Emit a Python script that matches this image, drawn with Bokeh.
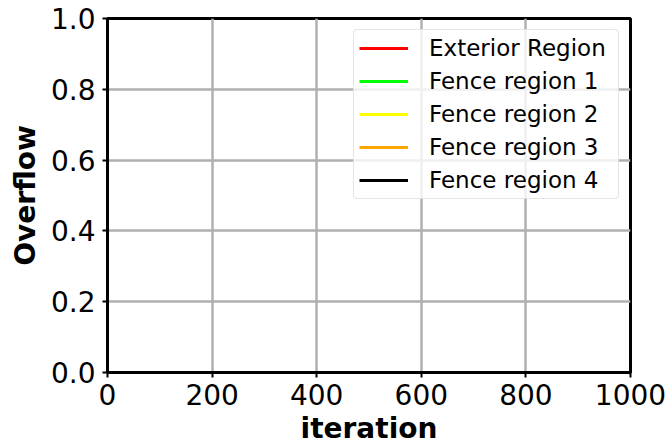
from bokeh.plotting import figure
from bokeh.models import Range1d, FixedTicker, PrintfTickFormatter, Legend, LegendItem
from bokeh.embed import file_html
from bokeh.resources import INLINE

nan = float("nan")

# Data (all series are empty in the reference; a single NaN keeps the legend glyph)
series_names = ["Exterior Region", "Fence region 1", "Fence region 2", "Fence region 3", "Fence region 4"]
series_colors = ["#ff0000", "#00ff00", "#ffff00", "#ffa500", "#000000"]
iterations = [[nan], [nan], [nan], [nan], [nan]]
overflow = [[nan], [nan], [nan], [nan], [nan]]
x_ticks = [0, 200, 400, 600, 800, 1000]
y_ticks = [0.0, 0.2, 0.4, 0.6, 0.8, 1.0]

FONT = "DejaVu Sans"

p = figure(width=669, height=447, output_backend="svg", toolbar_location=None,
           x_range=Range1d(0, 1000), y_range=Range1d(0, 1),
           min_border_left=107, min_border_right=39, min_border_top=18, min_border_bottom=74)

p.background_fill_color = "white"
p.border_fill_color = "white"
p.outline_line_color = "black"
p.outline_line_width = 3

items = []
for name, col, xs, ys in zip(series_names, series_colors, iterations, overflow):
    r = p.line(xs, ys, line_color=col, line_width=3)
    items.append(LegendItem(label=name, renderers=[r]))

for ax in (p.xaxis[0], p.yaxis[0]):
    ax.axis_line_color = "black"
    ax.axis_line_width = 3
    ax.major_tick_line_color = "black"
    ax.major_tick_line_width = 2
    ax.major_tick_out = 5
    ax.major_tick_in = 0
    ax.minor_tick_line_color = None
    ax.major_label_text_font = FONT
    ax.major_label_text_font_size = "28px"
    ax.major_label_text_color = "black"
    ax.axis_label_text_font = FONT
    ax.axis_label_text_font_size = "28px"
    ax.axis_label_text_font_style = "bold"
    ax.axis_label_text_color = "black"

p.xaxis[0].ticker = FixedTicker(ticks=x_ticks)
p.yaxis[0].ticker = FixedTicker(ticks=y_ticks)
p.yaxis[0].formatter = PrintfTickFormatter(format="%.1f")
p.xaxis[0].formatter = PrintfTickFormatter(format="%d")
p.xaxis[0].axis_label = "iteration"
p.yaxis[0].axis_label = "Overflow"
p.xaxis[0].major_label_standoff = 6
p.yaxis[0].major_label_standoff = 7
p.xaxis[0].axis_label_standoff = 4
p.yaxis[0].axis_label_standoff = 6
p.xaxis[0].major_label_text_line_height = 0.8
p.xaxis[0].axis_label_text_line_height = 0.8

p.xgrid[0].ticker = FixedTicker(ticks=x_ticks)
p.ygrid[0].ticker = FixedTicker(ticks=y_ticks)
for g in (p.xgrid[0], p.ygrid[0]):
    g.grid_line_color = "#b0b0b0"
    g.grid_line_width = 2.5

legend = Legend(items=items, location="top_right")
legend.margin = 11
legend.padding = 5
legend.spacing = 7
legend.glyph_width = 49
legend.glyph_height = 26
legend.label_height = 26
legend.label_width = 184
legend.label_standoff = 21
legend.label_text_font = FONT
legend.label_text_font_size = "23px"
legend.label_text_color = "black"
legend.border_line_color = "#cccccc"
legend.border_line_width = 1.5
legend.background_fill_color = "white"
legend.background_fill_alpha = 0.8
legend.border_radius = 4
p.add_layout(legend, "center")

open("out.html", "w").write(file_html(p, INLINE))
